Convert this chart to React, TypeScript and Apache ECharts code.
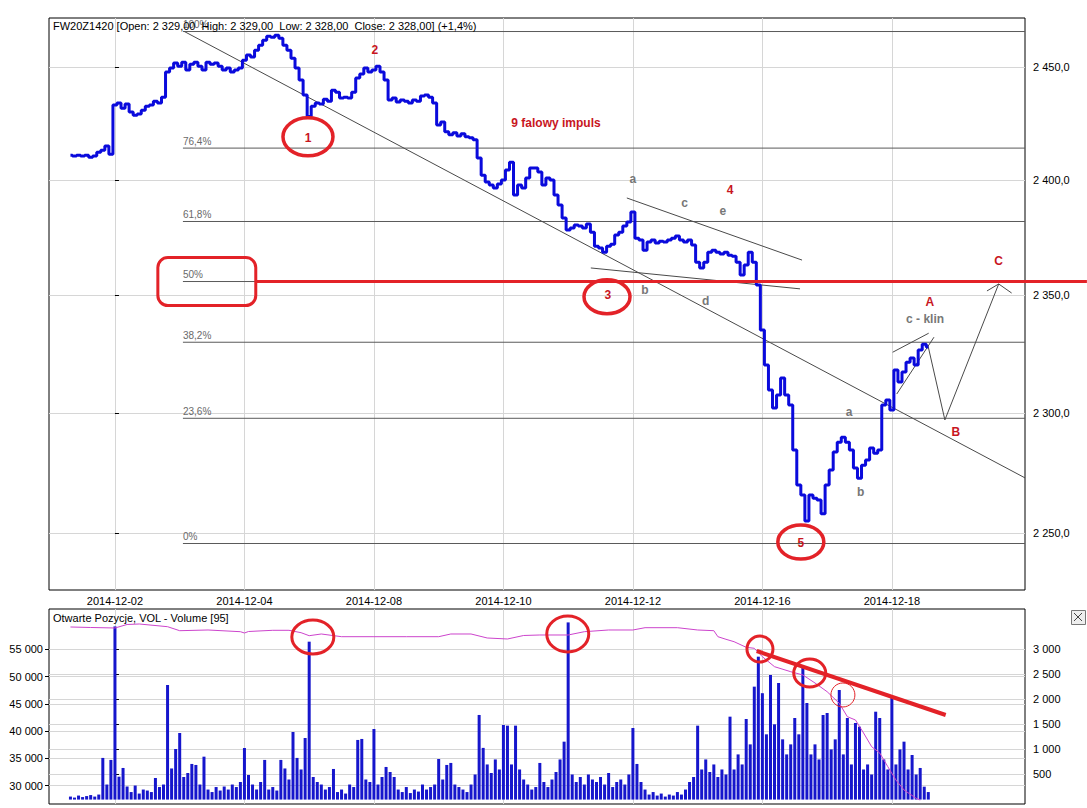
import React, { useEffect, useRef } from 'react';
import * as echarts from 'echarts';

// ---- x axis: half-hour trading periods, 0 = start of 2014-12-02 ----
const DATE_TICKS = [0, 32, 64, 96, 128, 160, 192];
const DATE_LABELS = ['2014-12-02', '2014-12-04', '2014-12-08', '2014-12-10', '2014-12-12', '2014-12-16', '2014-12-18'];
const U_START = -11;
const U_MIN = -16.3;
const U_MAX = 224.9;

// ---- price (close per half hour) ----
const PRICE = [
  2410.9, 2410.5, 2410.9, 2410.5, 2410.9, 2410.0, 2410.5, 2412.2, 2413.1, 2414.9, 2411.3,
  2433.1, 2434.0, 2431.7, 2433.5, 2430.0, 2428.6, 2429.1, 2430.8, 2432.6, 2433.1,
  2434.8, 2434.0, 2436.6, 2447.8, 2449.6, 2451.8, 2450.4, 2452.2, 2448.7, 2451.3,
  2452.2, 2450.4, 2448.7, 2452.2, 2451.3, 2451.8, 2450.4, 2448.7, 2449.6, 2447.8,
  2448.7, 2449.6, 2453.1, 2455.4, 2454.5, 2457.6, 2459.8, 2462.1, 2463.9, 2463.4,
  2464.3, 2463.0, 2459.8, 2457.6, 2454.0, 2449.6, 2444.2, 2437.5, 2428.0, 2432.6,
  2434.0, 2433.5, 2435.7, 2434.8, 2439.7, 2438.8, 2436.2, 2436.6, 2436.2, 2438.8,
  2445.1, 2446.9, 2449.6, 2447.8, 2448.7, 2450.4, 2447.8, 2444.2, 2435.3, 2436.2,
  2434.4, 2435.3, 2434.8, 2434.0, 2435.3, 2434.8, 2437.1, 2437.5, 2436.6, 2434.0,
  2424.2, 2425.6, 2421.2, 2419.9, 2420.8, 2419.4, 2420.3, 2419.0, 2418.6, 2417.7,
  2409.6, 2402.1, 2399.1, 2397.8, 2396.5, 2398.2, 2400.0, 2404.4, 2407.8, 2393.4,
  2397.8, 2396.5, 2400.9, 2405.2, 2405.2, 2403.5, 2397.8, 2400.9, 2400.0, 2393.4,
  2389.0, 2383.4, 2378.1, 2379.0, 2380.3, 2379.9, 2379.0, 2380.7, 2377.2, 2371.1,
  2370.3, 2368.5, 2371.1, 2372.0, 2376.0, 2377.2, 2379.9, 2381.6, 2386.0, 2374.6,
  2373.8, 2369.4, 2372.9, 2373.8, 2372.5, 2373.3, 2372.9, 2373.8, 2374.6, 2375.5,
  2373.8, 2372.9, 2373.8, 2371.6, 2364.2, 2361.7, 2364.2, 2368.5, 2369.4, 2368.5,
  2367.7, 2368.5, 2367.2, 2366.8, 2364.2, 2358.7, 2363.0, 2368.5, 2364.2, 2354.4,
  2335.1, 2320.2, 2309.6, 2302.0, 2307.5, 2314.7, 2307.5, 2303.3, 2284.4, 2269.8,
  2265.7, 2255.0, 2265.7, 2264.4, 2263.6, 2258.0, 2269.8, 2276.1, 2283.6, 2287.6,
  2289.7, 2287.6, 2284.4, 2276.9, 2272.7, 2278.1, 2280.2, 2285.2, 2283.1, 2284.4,
  2303.3, 2305.4, 2301.2, 2318.1, 2313.0, 2317.2, 2321.4, 2323.1, 2320.2, 2326.5,
  2329.0, 2327.8,
];

// ---- volume per half hour ----
const VOLUME = [
  60, 40, 80, 50, 70, 90, 60, 100, 830, 300, 790,
  3450, 456, 630, 260, 150, 280, 120, 200, 180, 150,
  430, 250, 300, 2283, 620, 1008, 1327, 450, 530, 710,
  690, 300, 855, 200, 150, 250, 180, 260, 200, 300,
  250, 350, 1028, 490, 300, 200, 350, 790, 200, 250,
  180, 790, 620, 400, 1347, 830, 600, 1227, 3146, 450,
  350, 300, 200, 250, 610, 150, 200, 120, 300, 250,
  1188, 1208, 400, 350, 1406, 300, 450, 650, 550, 450,
  200, 150, 250, 130, 200, 160, 300, 200, 250, 300,
  809, 400, 690, 730, 300, 250, 200, 150, 300, 500,
  1686, 1030, 700, 530, 800, 600, 1486, 1473, 700, 1473,
  600, 400, 300, 200, 250, 730, 350, 250, 400, 550,
  800, 1154, 3530, 500, 350, 450, 300, 500, 400, 350,
  450, 300, 530, 250, 350, 400, 300, 500, 1426, 710,
  350, 200, 100, 150, 80, 120, 60, 100, 80, 150,
  100, 200, 350, 450, 1473, 600, 800, 550, 700, 450,
  600, 500, 1652, 600, 900, 700, 1606, 1100, 2250, 2847,
  2120, 1300, 2482, 1500, 2323, 1200, 900, 1100, 1625, 1300,
  2647, 1924, 900, 1100, 800, 1685, 1725, 1000, 1200, 2183,
  900, 1625, 700, 1526, 1452, 600, 700, 500, 1751, 1625,
  800, 600, 2050, 700, 1000, 1154, 600, 888, 500, 630,
  257, 150,
];

// ---- open interest ----
const OI_U = [-11, -6, 0, 3, 6, 13, 16, 23, 31, 32, 33, 39, 43, 46, 48, 51, 56, 64, 72, 80, 83, 88, 92, 97, 101, 105, 112, 116, 122, 128, 131, 139, 144, 148, 149, 151, 153, 156, 158, 160, 163, 167, 170, 173, 176, 179, 181, 183, 185, 187, 189, 191, 193, 195, 198, 199];
const OI = [59136, 59044, 58952, 59595, 59687, 59191, 58455, 58584, 58272, 58033, 58308, 58529, 58529, 58088, 57536, 57849, 57353, 57353, 57353, 57353, 57849, 57849, 57114, 56930, 57573, 57665, 57665, 58272, 58584, 58584, 59007, 59007, 58584, 58455, 57353, 56875, 56434, 55404, 55221, 53677, 51839, 50920, 50313, 48843, 47244, 45112, 42649, 42042, 39653, 37135, 35977, 33459, 31015, 29177, 27650, 27338];

// ---- axes ----
const P_MIN = 2226.7;
const P_MAX = 2472.1;
const PRICE_TICKS = [2250, 2300, 2350, 2400, 2450];
const VOL_MIN = -88;
const VOL_MAX = 3797;
const VOL_TICKS = [500, 1000, 1500, 2000, 2500, 3000];
const OI_MIN = 26600;
const OI_MAX = 62444;
const OI_TICKS = [30000, 35000, 40000, 45000, 50000, 55000];

// ---- Fibonacci ----
const FIB_HIGH = 2466;
const FIB_LOW = 2245.7;
const FIB_LEVELS = [0, 23.6, 38.2, 50, 61.8, 76.4, 100];
const FIB_TEXT = ['0%', '23,6%', '38,2%', '50%', '61,8%', '76,4%', '100%'];
const FIB_START_U = 16.8;

// ---- drawn lines (u1, price1, u2, price2) ----
const TREND_LINES = [
  [17.05, 2466.1, 224.9, 2272.8],
  [126.5, 2392.1, 169.8, 2365.1],
  [117.6, 2361.7, 169.3, 2352.7],
  [192.2, 2325.6, 201.1, 2333.7],
  [193.2, 2307.9, 202.4, 2332.0],
  [200.9, 2328.6, 205.1, 2297.0],
  [205.1, 2297.0, 218.4, 2354.8],
  [218.4, 2354.8, 215.5, 2351.8],
  [218.4, 2354.8, 221.6, 2350.9],
];

// ---- labels ----
const RED_LABELS = [
  [47.7, 2418.6, '1'], [64.2, 2457.6, '2'], [121.8, 2350.1, '3'], [152.0, 2395.6, '4'],
  [169.5, 2245.9, '5'], [201.4, 2347.0, 'A'], [207.8, 2292.0, 'B'], [218.4, 2364.8, 'C'],
  [109.0, 2425.2, '9 falowy impuls'],
];
const GRAY_LABELS = [
  [128.0, 2400.3, 'a'], [140.8, 2390.0, 'c'], [150.2, 2386.5, 'e'], [131.0, 2352.4, 'b'],
  [146.0, 2347.4, 'd'], [181.4, 2300.5, 'a'], [184.3, 2266.9, 'b'], [200.2, 2339.7, 'c - klin'],
];
const PRICE_CIRCLES = [
  [47.7, 2419.0, 25, 19], [121.6, 2349.3, 23, 17], [169.5, 2246.3, 23, 17],
];
const VOL_CIRCLES = [
  [48.9, 3239, 21, 17, 3], [111.9, 3299, 21, 18, 3], [159.4, 2999, 13, 13, 3],
  [171.7, 2522, 16, 14, 3], [179.9, 2084, 12, 12, 1],
];
const VOL_RED_LINE = [158.6, 2960, 205.3, 1685];
const FIB50_BOX = [10.6, 34.8];
const FIB50_LINE_END_U = 240.2;

const L = Math.log;
const fmt = (n: number) => String(n).replace(/\B(?=(\d{3})+(?!\d))/g, ' ');
const FONT = '"Liberation Sans", Arial, sans-serif';

export default function App() {
  const ref = useRef<HTMLDivElement>(null);
  useEffect(() => {
    if (!ref.current) return;
    const chart = echarts.init(ref.current, undefined, { renderer: 'svg' });
    const fibPrice = (lv: number) => FIB_LOW + (FIB_HIGH - FIB_LOW) * lv / 100;
    const fib50 = fibPrice(50);

    const splitX = { show: true, lineStyle: { color: '#d6d6d6', width: 1 } };
    const option: any = {
      animation: false,
      backgroundColor: '#ffffff',
      textStyle: { fontFamily: FONT },
      grid: [
        { left: 49, top: 18, width: 976, height: 572, show: true, borderColor: '#000', borderWidth: 1, backgroundColor: 'transparent' },
        { left: 49, top: 609, width: 976, height: 195, show: true, borderColor: '#000', borderWidth: 1, backgroundColor: 'transparent' },
      ],
      xAxis: [
        {
          type: 'value', gridIndex: 0, min: U_MIN, max: U_MAX,
          axisLine: { show: false },
          axisTick: { show: false, customValues: DATE_TICKS },
          axisLabel: {
            customValues: DATE_TICKS, color: '#000', fontSize: 11, margin: 5, fontFamily: FONT,
            formatter: (v: number) => DATE_LABELS[DATE_TICKS.indexOf(Math.round(v))] || '',
          },
          splitLine: splitX,
        },
        {
          type: 'value', gridIndex: 1, min: U_MIN, max: U_MAX,
          axisLine: { show: false },
          axisTick: { show: false, customValues: DATE_TICKS },
          axisLabel: { show: false, customValues: DATE_TICKS },
          splitLine: splitX,
        },
      ],
      yAxis: [
        {
          type: 'value', gridIndex: 0, position: 'right', min: L(P_MIN), max: L(P_MAX),
          axisLine: { show: false },
          axisTick: { show: true, length: 4, lineStyle: { color: '#000' }, customValues: PRICE_TICKS.map(L) },
          axisLabel: {
            customValues: PRICE_TICKS.map(L), color: '#000', fontSize: 11, margin: 8, fontFamily: FONT,
            formatter: (v: number) => fmt(Math.round(Math.exp(v))) + ',0',
          },
          splitLine: { show: true, lineStyle: { color: '#d6d6d6' } },
        },
        {
          type: 'value', gridIndex: 1, position: 'right', min: VOL_MIN, max: VOL_MAX,
          axisLine: { show: false },
          axisTick: { show: true, length: 4, lineStyle: { color: '#000' }, customValues: VOL_TICKS },
          axisLabel: { customValues: VOL_TICKS, color: '#000', fontSize: 11, margin: 8, fontFamily: FONT, formatter: (v: number) => fmt(Math.round(v)) },
          splitLine: { show: true, lineStyle: { color: '#d6d6d6' } },
        },
        {
          type: 'value', gridIndex: 1, position: 'left', min: OI_MIN, max: OI_MAX,
          axisLine: { show: false },
          axisTick: { show: true, length: 4, lineStyle: { color: '#000' }, customValues: OI_TICKS },
          axisLabel: { customValues: OI_TICKS, color: '#000', fontSize: 11, margin: 6, fontFamily: FONT, formatter: (v: number) => fmt(Math.round(v)) },
          splitLine: { show: true, lineStyle: { color: '#d6d6d6' } },
        },
      ],
      series: [
        // Fibonacci lines + labels
        {
          type: 'custom', xAxisIndex: 0, yAxisIndex: 0, z: 2, silent: true, clip: false,
          data: FIB_LEVELS.map((lv) => [FIB_START_U, L(fibPrice(lv)), U_MAX]),
          renderItem: (params: any, api: any) => {
            const a = api.coord([api.value(0), api.value(1)]);
            const b = api.coord([api.value(2), api.value(1)]);
            return {
              type: 'group',
              children: [
                { type: 'line', shape: { x1: a[0], y1: a[1], x2: b[0], y2: b[1] }, style: { stroke: '#5a5a5a', lineWidth: 1 } },
                { type: 'text', x: a[0], y: a[1] - 2, style: { text: FIB_TEXT[params.dataIndex], fill: '#6a6a6a', font: `10px ${FONT}`, align: 'left', verticalAlign: 'bottom' } },
              ],
            };
          },
        },
        // thin trend / wave lines
        {
          type: 'custom', xAxisIndex: 0, yAxisIndex: 0, z: 3, silent: true, clip: false,
          data: TREND_LINES.map((s) => [s[0], L(s[1]), s[2], L(s[3])]),
          renderItem: (params: any, api: any) => {
            const a = api.coord([api.value(0), api.value(1)]);
            const b = api.coord([api.value(2), api.value(3)]);
            return { type: 'line', shape: { x1: a[0], y1: a[1], x2: b[0], y2: b[1] }, style: { stroke: '#4a4a4a', lineWidth: 1 } };
          },
        },
        // price
        {
          type: 'line', xAxisIndex: 0, yAxisIndex: 0, z: 4, silent: true,
          showSymbol: false, symbol: 'none', step: 'middle',
          data: PRICE.map((p, i) => [U_START + i, L(p)]),
          lineStyle: { color: '#0a0adc', width: 3 },
        },
        // 50% red line and box
        {
          type: 'custom', xAxisIndex: 0, yAxisIndex: 0, z: 5, silent: true, clip: false,
          data: [[FIB50_BOX[0], L(fib50), FIB50_BOX[1], FIB50_LINE_END_U]],
          renderItem: (params: any, api: any) => {
            const a = api.coord([api.value(0), api.value(1)]);
            const b = api.coord([api.value(2), api.value(1)]);
            const c = api.coord([api.value(3), api.value(1)]);
            return {
              type: 'group',
              children: [
                { type: 'rect', shape: { x: a[0], y: a[1] - 24, width: b[0] - a[0], height: 48, r: 10 }, style: { fill: 'none', stroke: '#e32228', lineWidth: 3 } },
                { type: 'line', shape: { x1: b[0], y1: b[1], x2: c[0], y2: c[1] }, style: { stroke: '#e32228', lineWidth: 3 } },
              ],
            };
          },
        },
        // red circles main
        {
          type: 'custom', xAxisIndex: 0, yAxisIndex: 0, z: 6, silent: true, clip: false,
          data: PRICE_CIRCLES.map((c) => [c[0], L(c[1]), c[2], c[3]]),
          renderItem: (params: any, api: any) => {
            const p = api.coord([api.value(0), api.value(1)]);
            return { type: 'ellipse', shape: { cx: p[0], cy: p[1], rx: api.value(2), ry: api.value(3) }, style: { fill: 'none', stroke: '#e32228', lineWidth: 3.5 } };
          },
        },
        // red labels
        {
          type: 'custom', xAxisIndex: 0, yAxisIndex: 0, z: 7, silent: true, clip: false,
          data: RED_LABELS.map((t) => [t[0], L(t[1] as number)]),
          renderItem: (params: any, api: any) => {
            const p = api.coord([api.value(0), api.value(1)]);
            return { type: 'text', x: p[0], y: p[1], style: { text: RED_LABELS[params.dataIndex][2], fill: '#c8161e', font: `bold 12px ${FONT}`, align: 'center', verticalAlign: 'middle' } };
          },
        },
        // gray labels
        {
          type: 'custom', xAxisIndex: 0, yAxisIndex: 0, z: 7, silent: true, clip: false,
          data: GRAY_LABELS.map((t) => [t[0], L(t[1] as number)]),
          renderItem: (params: any, api: any) => {
            const p = api.coord([api.value(0), api.value(1)]);
            return { type: 'text', x: p[0], y: p[1], style: { text: GRAY_LABELS[params.dataIndex][2], fill: '#777777', font: `bold 12px ${FONT}`, align: 'center', verticalAlign: 'middle' } };
          },
        },
        // volume bars
        {
          type: 'bar', xAxisIndex: 1, yAxisIndex: 1, z: 2, silent: true,
          barWidth: 3,
          data: VOLUME.map((v, i) => [U_START + i, v]),
          itemStyle: { color: '#1616cc' },
        },
        // open interest
        {
          type: 'line', xAxisIndex: 1, yAxisIndex: 2, z: 3, silent: true,
          showSymbol: false, symbol: 'none',
          data: OI.map((v, i) => [OI_U[i], v]),
          lineStyle: { color: '#cc44cc', width: 1 },
        },
        // volume annotations
        {
          type: 'custom', xAxisIndex: 1, yAxisIndex: 1, z: 6, silent: true, clip: false,
          data: VOL_CIRCLES,
          renderItem: (params: any, api: any) => {
            const p = api.coord([api.value(0), api.value(1)]);
            return { type: 'ellipse', shape: { cx: p[0], cy: p[1], rx: api.value(2), ry: api.value(3) }, style: { fill: 'none', stroke: '#e32228', lineWidth: api.value(4) } };
          },
        },
        {
          type: 'custom', xAxisIndex: 1, yAxisIndex: 1, z: 6, silent: true, clip: false,
          data: [VOL_RED_LINE],
          renderItem: (params: any, api: any) => {
            const a = api.coord([api.value(0), api.value(1)]);
            const b = api.coord([api.value(2), api.value(3)]);
            return { type: 'line', shape: { x1: a[0], y1: a[1], x2: b[0], y2: b[1] }, style: { stroke: '#e32228', lineWidth: 4 } };
          },
        },
      ],
      graphic: [
        { type: 'text', left: 53, top: 20, z: 10, style: { text: 'FW20Z1420 [Open: 2 329,00  High: 2 329,00  Low: 2 328,00  Close: 2 328,00] (+1,4%)', fill: '#000', font: `11px ${FONT}` } },
        { type: 'text', left: 53, top: 612, z: 10, style: { text: 'Otwarte Pozycje, VOL - Volume [95]', fill: '#000', font: `11px ${FONT}` } },
        { type: 'rect', left: 1071, top: 610, z: 10, shape: { width: 14, height: 14 }, style: { fill: '#eeeeee', stroke: '#777', lineWidth: 1 } },
        { type: 'line', z: 11, shape: { x1: 1074, y1: 613, x2: 1082, y2: 621 }, style: { stroke: '#444', lineWidth: 1 } },
        { type: 'line', z: 11, shape: { x1: 1082, y1: 613, x2: 1074, y2: 621 }, style: { stroke: '#444', lineWidth: 1 } },
      ],
    };
    chart.setOption(option);
    return () => chart.dispose();
  }, []);
  return <div ref={ref} style={{ position: 'fixed', left: 0, top: 0, width: 1087, height: 808, background: '#fff' }} />;
}
